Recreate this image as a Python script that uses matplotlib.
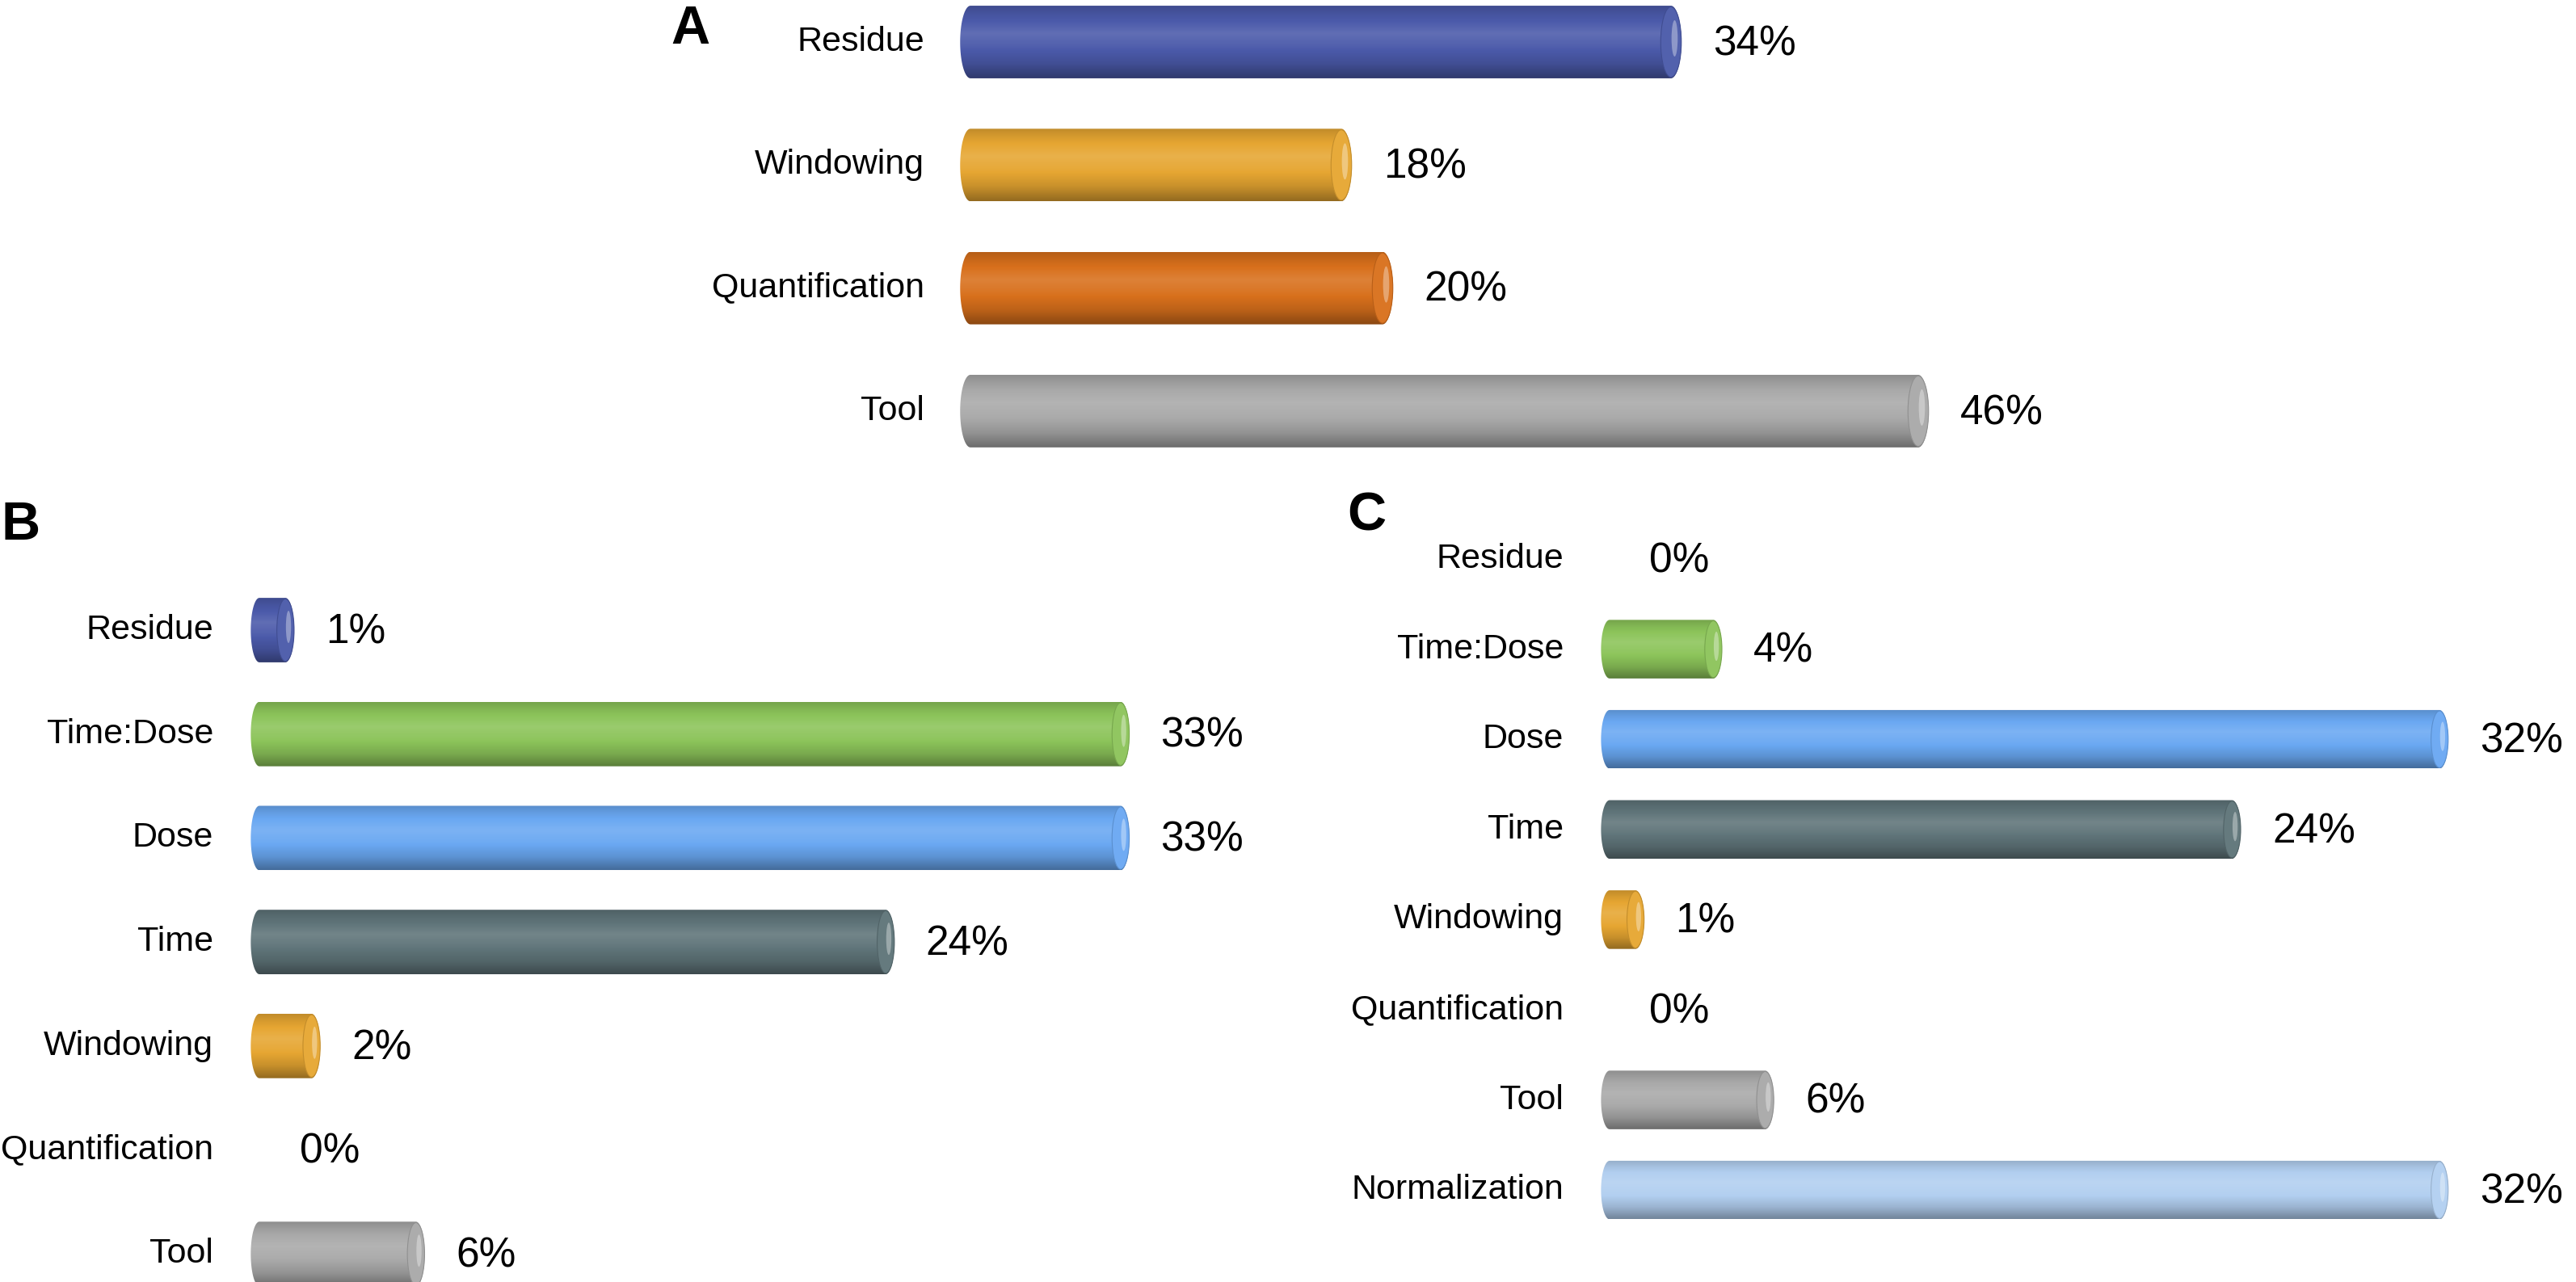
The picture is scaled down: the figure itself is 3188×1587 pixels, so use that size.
import numpy as np
import matplotlib.pyplot as plt
from matplotlib.path import Path
from matplotlib.patches import PathPatch, Ellipse
from matplotlib.colors import to_rgb

plt.rcParams['font.family'] = ['Liberation Sans', 'DejaVu Sans']

# data
a_labels = ['Residue', 'Windowing', 'Quantification', 'Tool']
a_values = [34, 18, 20, 46]

b_labels = ['Residue', 'Time:Dose', 'Dose', 'Time', 'Windowing', 'Quantification', 'Tool']
b_values = [1, 33, 33, 24, 2, 0, 6]

c_labels = ['Residue', 'Time:Dose', 'Dose', 'Time', 'Windowing', 'Quantification', 'Tool', 'Normalization']
c_values = [0, 4, 32, 24, 1, 0, 6, 32]

colors = {
    'Residue': '#4b5aaa',
    'Windowing': '#e6a632',
    'Quantification': '#d8701c',
    'Tool': '#a9a9a9',
    'Time:Dose': '#8cc45a',
    'Dose': '#6aa8f2',
    'Time': '#5f7479',
    'Normalization': '#b2cff0',
}

W, H = 3188, 1587
fig = plt.figure(figsize=(W / 200, H / 200), dpi=200)


def shade(col, f):
    rgb = np.array(to_rgb(col))
    if f >= 1:
        return rgb + (1 - rgb) * (f - 1)
    return rgb * f


# light profile across the tube, top -> bottom
prof_t = [0.0, 0.12, 0.38, 0.55, 0.8, 1.0]
prof_f = [0.84, 0.94, 1.12, 1.04, 0.87, 0.64]


def cylinder(ax, y, v, h, c, col):
    t = np.linspace(0, 1, 120)
    f = np.interp(t, prof_t, prof_f)
    grad = np.array([shade(col, k) for k in f])[:, None, :]

    th = np.linspace(-np.pi / 2, np.pi / 2, 40)
    top, bot = y - h / 2, y + h / 2
    right = np.column_stack([v + c * np.cos(th), y + h / 2 * np.sin(th)])
    left = np.column_stack([-c * np.cos(th), y - h / 2 * np.sin(th)])
    verts = np.vstack([[[0, top], [v, top]], right, [[v, bot], [0, bot]], left, [[0, top]]])
    patch = PathPatch(Path(verts), facecolor='none', edgecolor='none', transform=ax.transData)
    ax.add_patch(patch)
    im = ax.imshow(grad, extent=[-c, v + c, bot, top], aspect='auto',
                   interpolation='bicubic', zorder=2)
    im.set_clip_path(patch)

    # right end cap, only a soft rim of light
    ax.add_patch(Ellipse((v, y), 2 * c, h * 0.97, facecolor=shade(col, 1.04),
                         edgecolor=shade(col, 0.85), lw=0.4, zorder=3))
    ax.add_patch(Ellipse((v + 0.35 * c, y - 0.05 * h), 0.6 * c, 0.5 * h,
                         facecolor='white', edgecolor='none', alpha=0.35, zorder=4))


def panel(labels, values, x0, ppu, xmax, y_first, spacing, h, c):
    n = len(labels)
    xmin = -2
    left = x0 + xmin * ppu
    width = (xmax - xmin) * ppu
    top = y_first - spacing / 2
    height = n * spacing
    ax = fig.add_axes([left / W, (H - top - height) / H, width / W, height / H])
    for i, (lab, v) in enumerate(zip(labels, values)):
        if v > 0:
            cylinder(ax, i, v, h, c, colors[lab])
        ax.annotate(lab, (0, i), xytext=(-20.5, 0), textcoords='offset points',
                    ha='right', va='center', fontsize=15.5)
        ax.annotate(f'{v}%', (v + c, i), xytext=(14, -1), textcoords='offset points',
                    ha='left', va='center', fontsize=18.5)
    ax.set_xlim(xmin, xmax)
    ax.set_ylim(n - 0.5, -0.5)
    ax.axis('off')
    return ax


panel(a_labels, a_values, 1201, 25.5, 60, 52, 152.3, 0.59, 0.5)
panel(b_labels, b_values, 321, 32.3, 38, 780, 128.7, 0.62, 0.33)
panel(c_labels, c_values, 1992, 32.1, 36, 692, 111.6, 0.65, 0.33)

fig.text(854 / W, 1 - 37 / H, 'A', fontsize=24, fontweight='bold', ha='center', va='center')
fig.text(26 / W, 1 - 651 / H, 'B', fontsize=24, fontweight='bold', ha='center', va='center')
fig.text(1691 / W, 1 - 640 / H, 'C', fontsize=24, fontweight='bold', ha='center', va='center')

fig.savefig('out.png', dpi=200, facecolor='white')
